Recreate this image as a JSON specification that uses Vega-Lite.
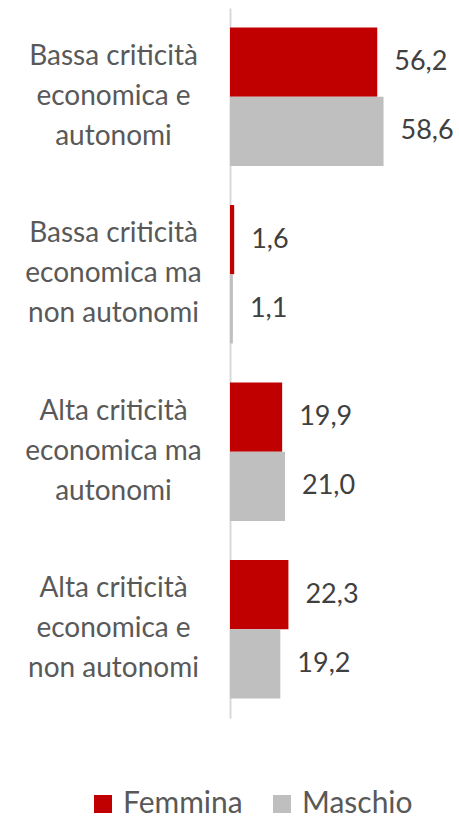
{
  "$schema": "https://vega.github.io/schema/vega-lite/v6.json",
  "width": 229,
  "height": 710,
  "padding": {"top": 8, "left": 230, "right": 0, "bottom": 101},
  "autosize": {"type": "none"},
  "config": {
    "view": {"stroke": null},
    "font": "Lato",
    "locale": {"number": {"decimal": ",", "thousands": ".", "grouping": [3], "currency": ["€", ""]}}
  },
  "data": {
    "values": [
      {"categoria": "Bassa criticità\neconomica e\nautonomi", "sesso": "Femmina", "valore": 56.2},
      {"categoria": "Bassa criticità\neconomica e\nautonomi", "sesso": "Maschio", "valore": 58.6},
      {"categoria": "Bassa criticità\neconomica ma\nnon autonomi", "sesso": "Femmina", "valore": 1.6},
      {"categoria": "Bassa criticità\neconomica ma\nnon autonomi", "sesso": "Maschio", "valore": 1.1},
      {"categoria": "Alta criticità\neconomica ma\nautonomi", "sesso": "Femmina", "valore": 19.9},
      {"categoria": "Alta criticità\neconomica ma\nautonomi", "sesso": "Maschio", "valore": 21.0},
      {"categoria": "Alta criticità\neconomica e\nnon autonomi", "sesso": "Femmina", "valore": 22.3},
      {"categoria": "Alta criticità\neconomica e\nnon autonomi", "sesso": "Maschio", "valore": 19.2}
    ]
  },
  "encoding": {
    "y": {
      "field": "categoria", "type": "nominal", "sort": null,
      "scale": {"paddingInner": 0.22, "paddingOuter": 0.11},
      "axis": {
        "title": null, "ticks": false, "domainColor": "#D9D9D9", "domainWidth": 2,
        "labelExpr": "split(datum.value, '\\n')",
        "labelAlign": "center", "labelPadding": 117, "labelFontSize": 28,
        "labelColor": "#595959", "labelLineHeight": 40, "labelLimit": 300,
        "labelOffset": -40
      }
    },
    "yOffset": {"field": "sesso", "type": "nominal", "sort": ["Femmina", "Maschio"]},
    "x": {
      "field": "valore", "type": "quantitative",
      "scale": {"domain": [0, 87.4]},
      "axis": null
    }
  },
  "layer": [
    {
      "mark": {"type": "bar"},
      "encoding": {
        "color": {
          "field": "sesso", "type": "nominal",
          "scale": {"domain": ["Femmina", "Maschio"], "range": ["#C00000", "#BFBFBF"]},
          "legend": {
            "title": null, "orient": "none", "direction": "horizontal",
            "legendX": -142, "legendY": 781,
            "symbolType": "square", "symbolSize": 324, "symbolStrokeWidth": 0,
            "labelFontSize": 30, "labelColor": "#595959", "columnPadding": 24,
            "labelOffset": 5
          }
        }
      }
    },
    {
      "mark": {"type": "text", "align": "left", "baseline": "middle", "dx": 17, "fontSize": 27, "color": "#404040"},
      "encoding": {
        "text": {"field": "valore", "type": "quantitative", "format": ".1f"}
      }
    }
  ]
}
